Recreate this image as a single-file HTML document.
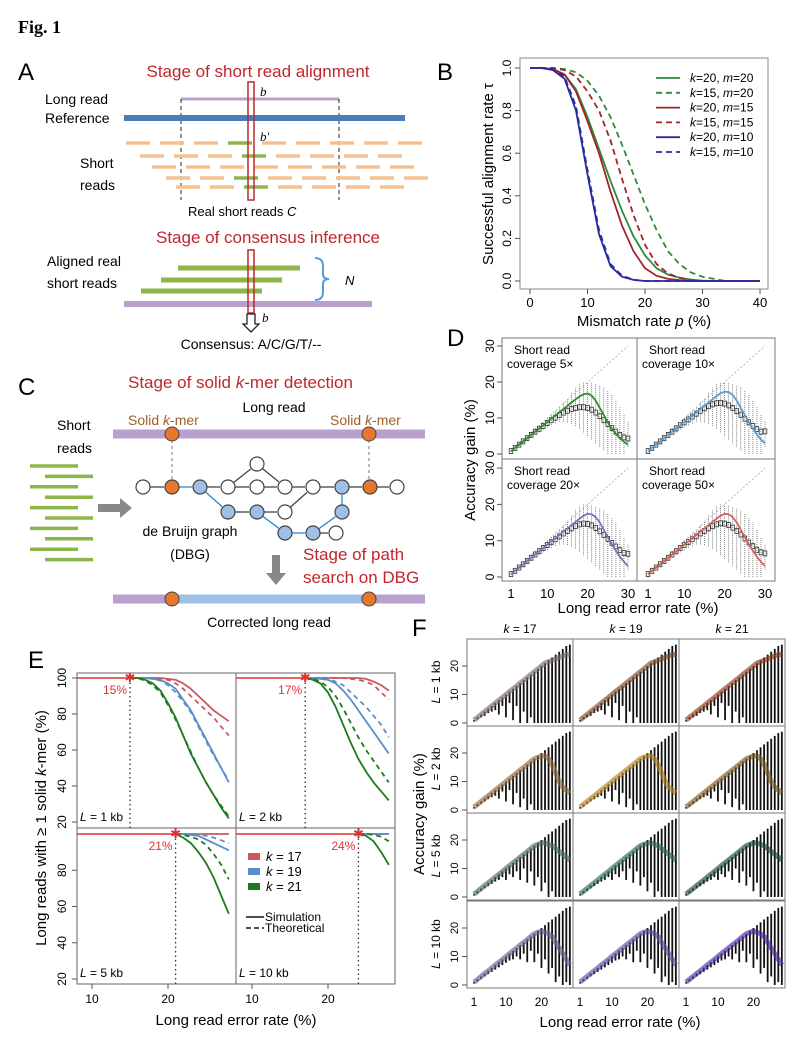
<!DOCTYPE html>
<html><head><meta charset="utf-8"><style>
html,body{margin:0;padding:0;background:#fff;}
svg{display:block;font-family:"Liberation Sans",sans-serif;}
</style></head><body>
<svg id="fig" xmlns="http://www.w3.org/2000/svg" width="798" height="1048" viewBox="0 0 798 1048">
<rect x="0" y="0" width="798" height="1048" fill="#fff"/>
<text x="18" y="33" font-family="Liberation Serif" font-weight="bold" font-size="18">Fig. 1</text>

<!-- Panel A -->
<g>
<text x="18" y="80" font-size="24">A</text>
<text x="258" y="77" font-size="17" fill="#c0272d" text-anchor="middle">Stage of short read alignment</text>
<line x1="181" y1="99" x2="339" y2="99" stroke="#b9a0cf" stroke-width="3"/>
<line x1="181" y1="99" x2="181" y2="200" stroke="#222" stroke-dasharray="4,3"/>
<line x1="339" y1="99" x2="339" y2="200" stroke="#222" stroke-dasharray="4,3"/>
<line x1="124" y1="118" x2="405" y2="118" stroke="#4a7ebb" stroke-width="6"/>
<text x="45" y="104" font-size="14">Long read</text>
<text x="45" y="123" font-size="14">Reference</text>
<g id="shortreads"></g>
<text x="80" y="168" font-size="14">Short</text>
<text x="80" y="190" font-size="14">reads</text>
<rect x="248" y="82" width="6" height="118" fill="none" stroke="#c0272d" stroke-width="1.5"/>
<text x="260" y="96" font-size="13" font-style="italic" font-family="Liberation Serif">b</text>
<text x="260" y="141" font-size="13" font-style="italic" font-family="Liberation Serif">b′</text>
<text x="188" y="216" font-size="13">Real short reads <tspan font-style="italic">C</tspan></text>
<text x="268" y="243" font-size="17" fill="#c0272d" text-anchor="middle">Stage of consensus inference</text>
<line x1="178" y1="268" x2="300" y2="268" stroke="#8db54a" stroke-width="5"/>
<line x1="161" y1="280" x2="282" y2="280" stroke="#8db54a" stroke-width="5"/>
<line x1="141" y1="291" x2="262" y2="291" stroke="#8db54a" stroke-width="5"/>
<line x1="124" y1="304" x2="372" y2="304" stroke="#b9a0cf" stroke-width="6"/>
<rect x="248" y="250" width="6" height="63" fill="none" stroke="#c0272d" stroke-width="1.5"/>
<path d="M315,258 q8,0 8,8 v8 q0,5 6,5 q-6,0 -6,5 v8 q0,8 -8,8" fill="none" stroke="#5b9bd5" stroke-width="2"/>
<text x="345" y="285" font-size="13" font-style="italic">N</text>
<text x="47" y="266" font-size="14">Aligned real</text>
<text x="47" y="288" font-size="14">short reads</text>
<path d="M247,314 v10 h-4 l8,8 l8,-8 h-4 v-10 z" fill="#fff" stroke="#222" stroke-width="1.3"/>
<text x="262" y="322" font-size="13" font-style="italic" font-family="Liberation Serif">b</text>
<text x="251" y="349" font-size="14" text-anchor="middle">Consensus: A/C/G/T/--</text>
</g>

<!-- Panel C -->
<g>
<text x="18" y="395" font-size="24">C</text>
<text x="128" y="388" font-size="17" fill="#c0272d">Stage of solid <tspan font-style="italic">k</tspan>-mer detection</text>
<text x="274" y="412" font-size="14" text-anchor="middle">Long read</text>
<text x="128" y="425" font-size="14" fill="#a0602a">Solid <tspan font-style="italic">k</tspan>-mer</text>
<text x="330" y="425" font-size="14" fill="#a0602a">Solid <tspan font-style="italic">k</tspan>-mer</text>
<line x1="113" y1="434" x2="425" y2="434" stroke="#b9a0cf" stroke-width="9"/>
<line x1="172" y1="434" x2="172" y2="487" stroke="#777" stroke-dasharray="3,3"/>
<line x1="369" y1="434" x2="369" y2="487" stroke="#777" stroke-dasharray="3,3"/>
<circle cx="172" cy="434" r="7" fill="#e8772e" stroke="#444"/>
<circle cx="369" cy="434" r="7" fill="#e8772e" stroke="#444"/>
<text x="57" y="430" font-size="14">Short</text>
<text x="57" y="453" font-size="14">reads</text>
<g id="greenreads"></g>
<path d="M98,504 h22 v-6 l12,10 l-12,10 v-6 h-22 z" fill="#888"/>
<g id="dbg"></g>
<text x="190" y="536" font-size="14" text-anchor="middle">de Bruijn graph</text>
<text x="190" y="559" font-size="14" text-anchor="middle">(DBG)</text>
<path d="M272,555 h8 v18 h6 l-10,12 l-10,-12 h6 z" fill="#888"/>
<text x="303" y="560" font-size="17" fill="#c0272d">Stage of path</text>
<text x="303" y="583" font-size="17" fill="#c0272d">search on DBG</text>
<line x1="113" y1="599" x2="425" y2="599" stroke="#b9a0cf" stroke-width="9"/>
<line x1="172" y1="599" x2="369" y2="599" stroke="#9ec0e6" stroke-width="9"/>
<circle cx="172" cy="599" r="7" fill="#e8772e" stroke="#444"/>
<circle cx="369" cy="599" r="7" fill="#e8772e" stroke="#444"/>
<text x="269" y="627" font-size="14" text-anchor="middle">Corrected long read</text>
</g>

<g id="panelB"></g>
<g id="panelD"></g>
<g id="panelE"></g>
<g id="panelF"></g>
</svg>
<script>
// ---------- Panel B data ----------
const pB = [0,2,4,6,8,10,12,14,16,18,20,22,24,26,28,30,32,34,36,38,40];
const bK20m20 = [1,1,0.995,0.97,0.9,0.77,0.62,0.47,0.33,0.21,0.12,0.06,0.03,0.015,0.006,0.002,0,0,0,0,0];
const bK15m20 = [1,1,1,0.995,0.98,0.94,0.87,0.77,0.64,0.5,0.36,0.24,0.14,0.08,0.04,0.02,0.01,0,0,0,0];
const bK20m15 = [1,1,0.995,0.97,0.89,0.75,0.6,0.42,0.26,0.14,0.06,0.025,0.01,0.004,0,0,0,0,0,0,0];
const bK15m15 = [1,1,1,0.99,0.96,0.89,0.8,0.66,0.48,0.31,0.17,0.08,0.035,0.015,0.005,0,0,0,0,0,0];
const bK20m10 = [1,1,0.99,0.95,0.8,0.5,0.22,0.07,0.02,0.005,0,0,0,0,0,0,0,0,0,0,0];
const bK15m10 = [1,1,0.995,0.96,0.82,0.52,0.24,0.08,0.025,0.006,0,0,0,0,0,0,0,0,0,0,0];
const bXTicks = [0,10,20,30,40];
const bYTicks = ["0.0","0.2","0.4","0.6","0.8","1.0"];
const bLegend = ["k=20, m=20","k=15, m=20","k=20, m=15","k=15, m=15","k=20, m=10","k=15, m=10"];

// ---------- Panel D data ----------
const dX = [1,2,3,4,5,6,7,8,9,10,11,12,13,14,15,16,17,18,19,20,21,22,23,24,25,26,27,28,29,30];
const dCurve5  = [0.8,1.7,2.6,3.5,4.4,5.3,6.2,7.1,8,8.9,9.8,10.7,11.6,12.5,13.4,14.3,15.2,16,16.6,16.8,16.2,14.8,12.8,10.8,8.8,7,5.6,4.4,3.4,2.6];
const dCurve10 = [0.8,1.7,2.6,3.5,4.4,5.3,6.2,7.1,8,8.9,9.8,10.7,11.6,12.5,13.4,14.3,15.2,16.1,16.9,17.3,17.2,16.4,14.8,12.8,10.8,8.8,7,5.4,4,3];
const dCurve20 = [0.8,1.7,2.6,3.5,4.4,5.3,6.2,7.1,8,8.9,9.8,10.7,11.6,12.5,13.4,14.3,15.2,16.1,16.9,17.4,17.3,16.5,15,13,11,9,7.2,5.6,4.2,3];
const dCurve50 = [0.8,1.7,2.6,3.5,4.4,5.3,6.2,7.1,8,8.9,9.8,10.7,11.6,12.5,13.4,14.3,15.2,16.1,16.9,17.4,17.3,16.5,15,13,11,9,7.2,5.6,4.2,3];
const dMed5  = [0.8,1.7,2.6,3.5,4.4,5.3,6.2,7,7.8,8.6,9.4,10.1,10.8,11.5,12,12.5,12.8,13,13,12.8,12.3,11.5,10.5,9.4,8.3,7.2,6.2,5.3,4.6,4.3];
const dMed10 = [0.8,1.7,2.6,3.5,4.4,5.3,6.2,7.1,8,8.8,9.6,10.4,11.2,12,12.7,13.3,13.8,14.1,14.2,14,13.5,12.8,11.9,10.9,9.8,8.8,7.8,6.9,6.2,6.3];
const dMed20 = [0.8,1.7,2.6,3.5,4.4,5.3,6.2,7.1,8,8.8,9.6,10.4,11.2,12,12.7,13.4,14,14.5,14.7,14.6,14.2,13.5,12.6,11.6,10.5,9.4,8.4,7.4,6.6,6.4];
const dMed50 = [0.8,1.7,2.6,3.5,4.4,5.3,6.2,7.1,8,8.8,9.6,10.4,11.2,12,12.7,13.4,14,14.5,14.8,14.7,14.3,13.6,12.7,11.7,10.6,9.5,8.5,7.5,6.8,6.5];
const dWhiskHi = [1,2,3,4,5,6,7,8,9,10,11,12,13,14.5,15.5,17,18.5,19.5,20,20,19.8,19.5,19,18.5,17.5,16.5,15,13,11,9];
const dWhiskLo = [0.5,1.3,2.2,3,3.8,4.6,5.4,6,6.8,7.4,8,8.5,9,9,8.8,8.4,7.8,7,6,5,4,3,2,1,0,0,0,0,0,2];
const dXTicks = [1,10,20,30];
const dYTicks = [0,10,20,30];
const dCoverage = ["5×","10×","20×","50×"];

// ---------- Panel E data ----------
const eX = [15,16,17,18,19,20,21,22,23,24,25,26,27,28];
const e1k17s = [100,100,100,100,100,99.5,99,97,94,90,86,82,79,76];
const e1k17t = [100,100,100,100,99.5,99,97,94,90,86,82,78,73,68];
const e1k19s = [100,100,100,99.5,99,97,94,88,82,74,66,58,50,42];
const e1k19t = [100,100,100,99.5,98.5,96,92,87,81,73,65,57,50,43];
const e1k21s = [100,100,99,97,93,86,78,68,58,50,42,35,28,22];
const e1k21t = [100,100,98.5,96,92,85,77,68,59,50,42,35,29,23];
const e2k17s = [100,100,100,100,100,100,100,100,100,100,99.5,98,96,93];
const e2k17t = [100,100,100,100,100,100,100,100,99.5,99,98,96,92,88];
const e2k19s = [100,100,100,100,99.5,99,97,93,88,82,76,70,64,58];
const e2k19t = [100,100,100,100,99.8,99.5,98,96,92,88,84,79,74,67];
const e2k21s = [100,100,100,99,97,92,84,74,64,55,48,42,37,32];
const e2k21t = [100,100,100,99.5,98,95,90,83,75,67,60,54,48,42];
const e5k17s = [100,100,100,100,100,100,100,100,100,100,100,100,100,100];
const e5k19s = [100,100,100,100,100,100,100,100,99.5,99,97,95,93,91];
const e5k19t = [100,100,100,100,100,100,100,100,100,99.8,99,98,96.5,95];
const e5k21s = [100,100,100,100,100,100,100,98,95,90,84,76,66,56];
const e5k21t = [100,100,100,100,100,100,100,99.5,98.5,97,94,89,83,75];
const e10k17s = [100,100,100,100,100,100,100,100,100,100,100,100,100,100];
const e10k19s = [100,100,100,100,100,100,100,100,100,100,100,100,100,100];
const e10k21s = [100,100,100,100,100,100,100,100,100,100,99,96,90,83];
const e10k21t = [100,100,100,100,100,100,100,100,100,100,100,99.5,98.5,96];
const eThresh = [15,17,21,24];
const eThreshLabels = ["15%","17%","21%","24%"];
const eLengths = ["1 kb","2 kb","5 kb","10 kb"];
const eXTicks = [10,20];
const eYTicksTop = [20,40,60,80,100];
const eYTicksBot = [20,40,60,80];

// ---------- Panel F data ----------
const fX = [1,2,3,4,5,6,7,8,9,10,11,12,13,14,15,16,17,18,19,20,21,22,23,24,25,26,27,28];
const fHi = [1,2,3,4,5,6,7,8,9,10,11,12,13,14,15,16,17,18,19,20,21,22,23,24,25,26,27,27.5];
const fLoRow1 = [0.5,1.3,2,2.5,3.5,4,4.5,3,6,2,7,1,6,0,4,0,2,0,0,0,0,0,0,0,0,0,0,0];
const fLoRow2 = [0.5,1.3,2.2,3,3.8,4.5,5,4,6.5,3,7,2,6,1,4,0,2,0,0,0,0,0,0,0,0,0,0,0];
const fLoRow3 = [0.5,1.3,2.2,3,3.8,4.6,5.4,6,7,6,8,7,9,6,10,5,9,4,7,2,5,0,2,0,0,0,0,0];
const fLoRow4 = [0.5,1.3,2.2,3,3.8,4.6,5.4,6.2,7,7.8,8.6,9,10,9,11,8,12,8,11,6,9,4,6,1,3,0,1,0];
const fMedRow1 = [1,2,3,4,5,6,7,8,9,10,11,12,13,14,15,16,17,18,19,20,21,21.5,22,22.5,23,23.5,24,24];
const fMedRow2 = [1,2,3,4,5,6,7,8,9,10,11,12,13,14,15,16,17,18,18.5,19,19,18,16,13,10,8,7,6];
const fMedRow3 = [1,2,3,4,5,6,7,8,9,10,11,12,13,14,15,16,17,18,18.5,19,19,18.5,18,17,16,15,14,13];
const fMedRow4 = [1,2,3,4,5,6,7,8,9,10,11,12,13,14,15,16,17,18,18.5,19,18.5,18,17,15,13,11,9,7];
const fK = ["17","19","21"];
const fL = ["1 kb","2 kb","5 kb","10 kb"];
const fXTicks = [1,10,20];
const fYTicks = [0,10,20];

const NS = "http://www.w3.org/2000/svg";
function el(tag, attrs, parent){ const e=document.createElementNS(NS,tag); for(const k in attrs) e.setAttribute(k,attrs[k]); parent.appendChild(e); return e; }
function pts(xs, ys, fx, fy){ return xs.map((x,i)=>fx(x).toFixed(1)+","+fy(ys[i]).toFixed(1)).join(" "); }

// ---------- Panel A short-read dashes ----------
(function(){
  const g=document.getElementById('shortreads');
  const rows=[[143,126],[156,140],[167,152],[178,166],[187,176]];
  rows.forEach((r,ri)=>{
    for(let x=r[1]; x<405; x+=34){
      const green = (x<=250 && x+24>=248);
      const l=el('line',{x1:x,y1:r[0],x2:x+24,y2:r[0],stroke:green?'#8db54a':'#f6c08f','stroke-width':3.5},g);
      
      
    }
  });
  const gr=document.getElementById('greenreads');
  for(let i=0;i<10;i++){
    const x0 = i%2===0?30:45;
    const l=el('line',{x1:x0,y1:466+i*10.4,x2:x0+48,y2:466+i*10.4,stroke:'#8db54a','stroke-width':3.5},gr);
    
    
  }
  const dbg=document.getElementById('dbg');
  const nodes={a:[143,487,'w'],b:[172,487,'o'],c:[200,487,'b'],d:[228,487,'w'],e:[257,487,'w'],f:[285,487,'w'],g:[313,487,'w'],h:[342,487,'b'],i:[370,487,'o'],j:[397,487,'w'],t:[257,464,'w'],m:[228,512,'b'],n:[257,512,'b'],o:[285,512,'w'],p:[342,512,'b'],q:[285,533,'b'],r:[313,533,'b'],s:[336,533,'w']};
  const edges=[['a','b','k'],['b','c','u'],['c','d','k'],['d','e','k'],['e','f','k'],['f','g','k'],['g','h','k'],['h','i','k'],['i','j','k'],['d','t','k'],['t','f','k'],['c','m','u'],['m','n','k'],['n','o','k'],['o','g','k'],['n','q','u'],['q','r','u'],['r','s','k'],['r','p','u'],['p','h','u']];
  edges.forEach(e=>{
    const A=nodes[e[0]],B=nodes[e[1]];
    const dx=B[0]-A[0],dy=B[1]-A[1],L=Math.hypot(dx,dy);
    const l=el('line',{x1:A[0]+dx/L*7,y1:A[1]+dy/L*7,x2:B[0]-dx/L*8,y2:B[1]-dy/L*8,stroke:e[2]==='u'?'#2a8ad0':'#444','stroke-width':1.3},dbg);
    
    
  });
  Object.values(nodes).forEach(n=>{
    const c=el('circle',{cx:n[0],cy:n[1],r:7,fill:n[2]==='o'?'#e8772e':(n[2]==='b'?'#9ec0e6':'#fff'),stroke:'#444','stroke-width':1.2},dbg);
    
    
  });
})();

// ---------- Panel B ----------
(function(){
  const g=document.getElementById('panelB');
  const xB=p=>530+p*(230/40), yB=v=>281-v*213;
  let t=el('text',{x:437,y:80,'font-size':24},g); t.textContent='B';
  
  
  const box=el('rect',{x:520,y:58,width:248,height:231,fill:'none',stroke:'#888'},g);
  
  
  bXTicks.forEach(v=>{
    const l=el('line',{x1:xB(v),y1:289,x2:xB(v),y2:294,stroke:'#555'},g);
    
    
    const tx=el('text',{x:xB(v),y:307,'font-size':13,'text-anchor':'middle'},g); tx.textContent=v;
    
    
  });
  bYTicks.forEach(s=>{
    const v=parseFloat(s);
    const l=el('line',{x1:515,y1:yB(v),x2:520,y2:yB(v),stroke:'#555'},g);
    
    
    const tx=el('text',{x:511,y:yB(v),'font-size':12,'text-anchor':'middle',transform:`rotate(-90 511 ${yB(v)})`},g); tx.textContent=s;
    
    
  });
  let xt=el('text',{x:644,y:326,'font-size':15,'text-anchor':'middle'},g); xt.innerHTML='Mismatch rate <tspan font-style="italic">p</tspan> (%)';
  
  
  let yt=el('text',{x:493,y:174,'font-size':15,'text-anchor':'middle',transform:'rotate(-90 493 174)'},g); yt.textContent='Successful alignment rate τ';
  
  
  const series=[[bK20m20,'#2f8a3a',''],[bK15m20,'#2f8a3a','6,4'],[bK20m15,'#a3242a',''],[bK15m15,'#a3242a','6,4'],[bK20m10,'#2a2aa0',''],[bK15m10,'#2a2aa0','6,4']];
  series.forEach((s,i)=>{
    const pl=el('polyline',{points:pts(pB,s[0],xB,yB),fill:'none',stroke:s[1],'stroke-width':1.8,'stroke-dasharray':s[2]},g);
    
    
    const ly=78+i*14.8;
    const ll=el('line',{x1:656,y1:ly,x2:680,y2:ly,stroke:s[1],'stroke-width':1.8,'stroke-dasharray':s[2]},g);
    
    
    const lt=el('text',{x:690,y:ly+4,'font-size':12},g);
    lt.innerHTML=bLegend[i].replace(/k/,'<tspan font-style="italic">k</tspan>').replace(/m/,'<tspan font-style="italic">m</tspan>');
    
    
  });
})();

// ---------- Panel D ----------
(function(){
  const g=document.getElementById('panelD');
  const xD=(c,v)=>(c===0?511:648)+(v-1)*(117/29);
  const yD=(r,v)=>(r===0?454:577)-v*(r===0?3.6:3.63);
  let t=el('text',{x:447,y:346,'font-size':24},g); t.textContent='D';
  
  
  const box=el('rect',{x:502,y:338,width:273,height:243,fill:'none',stroke:'#777'},g);
  
  
  let l=el('line',{x1:637,y1:338,x2:637,y2:581,stroke:'#777'},g);
  
  
  l=el('line',{x1:502,y1:459,x2:775,y2:459,stroke:'#777'},g);
  
  
  const curves=[dCurve5,dCurve10,dCurve20,dCurve50], meds=[dMed5,dMed10,dMed20,dMed50];
  const cols=['#2e8b2e','#5a9bd0','#8070b8','#d9605a'];
  for(let k=0;k<4;k++){
    const c=k%2, r=Math.floor(k/2);
    const fx=v=>xD(c,v), fy=v=>yD(r,v);
    const diag=el('line',{x1:fx(1),y1:fy(1),x2:fx(30),y2:fy(30),stroke:'#bbb','stroke-dasharray':'2,2'},g);
    
    
    dX.forEach((x,i)=>{
      const w=el('line',{x1:fx(x),y1:fy(dWhiskLo[i]),x2:fx(x),y2:fy(dWhiskHi[i]),stroke:'#555','stroke-width':0.7,'stroke-dasharray':'1,1'},g);
      
      
      const b=el('rect',{x:fx(x)-1.8,y:fy(meds[k][i])-2.5,width:3.6,height:5,fill:'none',stroke:'#333','stroke-width':0.8},g);
      
      
    });
    const pl=el('polyline',{points:pts(dX,curves[k],fx,fy),fill:'none',stroke:cols[k],'stroke-width':1.8},g);
    
    
    const lab=el('text',{x:(c===0?502:637)+10,y:(r===0?338:459)+16,'font-size':12},g);
    lab.innerHTML='<tspan x="'+((c===0?502:637)+12)+'">Short read</tspan><tspan x="'+((c===0?502:637)+5)+'" dy="14">coverage '+dCoverage[k]+'</tspan>';
    
    
  }
  [0,1].forEach(r=>dYTicks.forEach(v=>{
    const tk=el('line',{x1:497,y1:yD(r,v),x2:502,y2:yD(r,v),stroke:'#555'},g);
    
    
    const tx=el('text',{x:494,y:yD(r,v),'font-size':12,'text-anchor':'middle',transform:`rotate(-90 494 ${yD(r,v)})`},g); tx.textContent=v;
    
    
  }));
  [0,1].forEach(c=>dXTicks.forEach(v=>{
    const tx=el('text',{x:xD(c,v),y:598,'font-size':13,'text-anchor':'middle'},g); tx.textContent=v;
    
    
  }));
  let xt=el('text',{x:638,y:613,'font-size':15,'text-anchor':'middle'},g); xt.textContent='Long read error rate (%)';
  
  
  let yt=el('text',{x:475,y:460,'font-size':15,'text-anchor':'middle',transform:'rotate(-90 475 460)'},g); yt.textContent='Accuracy gain (%)';
  
  
})();

// ---------- Panel E ----------
(function(){
  const g=document.getElementById('panelE');
  const xE=(c,v)=>(c===0?92:252)+(v-10)*7.6;
  const yE=(r,v)=>(r===0?678:834)+(100-v)*(r===0?1.8:1.8125);
  let t=el('text',{x:28,y:668,'font-size':24},g); t.textContent='E';
  
  
  const box=el('rect',{x:77,y:673,width:318,height:311,fill:'none',stroke:'#666'},g);
  
  
  let l=el('line',{x1:236,y1:673,x2:236,y2:984,stroke:'#666'},g);
  
  
  l=el('line',{x1:77,y1:828,x2:395,y2:828,stroke:'#666'},g);
  
  
  const R='#c85a5a',B='#5b8ec9',G='#1e7a1e';
  const panels=[
    [[e1k17s,R,''],[e1k17t,R,'5,4'],[e1k19s,B,''],[e1k19t,B,'5,4'],[e1k21s,G,''],[e1k21t,G,'5,4']],
    [[e2k17s,R,''],[e2k17t,R,'5,4'],[e2k19s,B,''],[e2k19t,B,'5,4'],[e2k21s,G,''],[e2k21t,G,'5,4']],
    [[e5k17s,R,''],[e5k19s,B,''],[e5k19t,B,'5,4'],[e5k21s,G,''],[e5k21t,G,'5,4']],
    [[e10k17s,R,''],[e10k19s,B,''],[e10k21s,G,''],[e10k21t,G,'5,4']]
  ];
  for(let k=0;k<4;k++){
    const c=k%2, r=Math.floor(k/2);
    const fx=v=>xE(c,v), fy=v=>yE(r,v);
    const x0=c===0?77:236, yb=r===0?828:984;
    const th=eThresh[k];
    const hl=el('line',{x1:x0,y1:fy(100),x2:fx(th),y2:fy(100),stroke:'#d33','stroke-width':1.4},g);
    
    
    const vl=el('line',{x1:fx(th),y1:fy(100),x2:fx(th),y2:yb,stroke:'#333','stroke-dasharray':'1.5,3','stroke-width':1.3},g);
    
    
    const xs=eX.filter(x=>x>=th);
    panels[k].forEach((s,si)=>{
      const ys=s[0].slice(eX.length-xs.length);
      const pl=el('polyline',{points:pts(xs,ys,fx,fy),fill:'none',stroke:s[1],'stroke-width':1.8,'stroke-dasharray':s[2]},g);
      
      
    });
    const st=el('text',{x:fx(th),y:fy(100)+4,'font-size':13,fill:'#e03030','text-anchor':'middle'},g); st.textContent='✱';
    
    
    const tl=el('text',{x:fx(th)-3,y:fy(100)+16,'font-size':12,fill:'#e03030','text-anchor':'end'},g); tl.textContent=eThreshLabels[k];
    
    
    const ll=el('text',{x:x0+3,y:yb-7,'font-size':12},g); ll.innerHTML='<tspan font-style="italic">L</tspan> = '+eLengths[k];
    
    
    eXTicks.forEach(v=>{
      if(r===1){
        const tk=el('line',{x1:fx(v),y1:984,x2:fx(v),y2:989,stroke:'#555'},g);
        
        
        const tx=el('text',{x:fx(v),y:1003,'font-size':12,'text-anchor':'middle'},g); tx.textContent=v;
        
        
      }
    });
  }
  [[0,eYTicksTop],[1,eYTicksBot]].forEach(a=>a[1].forEach(v=>{
    const y=yE(a[0],v);
    const tk=el('line',{x1:72,y1:y,x2:77,y2:y,stroke:'#555'},g);
    
    
    const tx=el('text',{x:66,y:y,'font-size':12,'text-anchor':'middle',transform:`rotate(-90 66 ${y})`},g); tx.textContent=v;
    
    
  }));
  let xt=el('text',{x:236,y:1025,'font-size':15,'text-anchor':'middle'},g); xt.textContent='Long read error rate (%)';
  
  
  let yt=el('text',{x:46,y:828,'font-size':15,'text-anchor':'middle',transform:'rotate(-90 46 828)'},g); yt.innerHTML='Long reads with ≥ 1 solid <tspan font-style="italic">k</tspan>-mer (%)';
  
  
  const leg=[['17',R],['19',B],['21',G]];
  leg.forEach((d,i)=>{
    const rc=el('rect',{x:248,y:853+i*15,width:12,height:7,fill:d[1]},g);
    
    
    const tx=el('text',{x:266,y:861+i*15,'font-size':13},g); tx.innerHTML='<tspan font-style="italic">k</tspan> = '+d[0];
    
    
  });
  let s1=el('line',{x1:246,y1:917,x2:264,y2:917,stroke:'#111','stroke-width':1.5},g);
  
  
  let s2=el('line',{x1:246,y1:928,x2:264,y2:928,stroke:'#111','stroke-width':1.5,'stroke-dasharray':'5,3'},g);
  
  
  let st1=el('text',{x:265,y:921,'font-size':12},g); st1.textContent='Simulation';
  
  
  let st2=el('text',{x:265,y:932,'font-size':12},g); st2.textContent='Theoretical';
  
  
})();

// ---------- Panel F ----------
(function(){
  const g=document.getElementById('panelF');
  const x0=[467,573,679], y0=[639,726,813,901];
  const xF=(c,v)=>x0[c]+7+(v-1)*3.55, yF=(r,v)=>y0[r]+84-v*2.85;
  let t=el('text',{x:412,y:636,'font-size':24},g); t.textContent='F';
  
  
  const los=[fLoRow1,fLoRow2,fLoRow3,fLoRow4], meds=[fMedRow1,fMedRow2,fMedRow3,fMedRow4];
  const cols=[["#7a6a6a","#7a4a2a","#8a3a1a"],["#8a6a3a","#b08020","#7a5a20"],["#4a6a5a","#2a6a4a","#1a4a30"],["#6a5a8a","#5a4aa0","#4a2aa0"]];
  for(let r=0;r<4;r++) for(let c=0;c<3;c++){
    const fx=v=>xF(c,v), fy=v=>yF(r,v);
    fX.forEach((x,i)=>{
      const b=el('line',{x1:fx(x),y1:fy(los[r][i]),x2:fx(x),y2:fy(fHi[i]),stroke:'#111','stroke-width':1.8},g);
      
      
    });
    const m=el('polyline',{points:pts(fX,meds[r],fx,fy),fill:'none',stroke:cols[r][c],'stroke-width':5,'stroke-opacity':0.65,'stroke-linejoin':'round'},g);
    
    
  }
  for(let r=0;r<4;r++) for(let c=0;c<3;c++){
    const fr=el('rect',{x:x0[c],y:y0[r],width:106,height:87,fill:'none',stroke:'#777'},g);
    
    
  }
  fK.forEach((k,c)=>{
    const tx=el('text',{x:x0[c]+53,y:633,'font-size':12,'text-anchor':'middle'},g); tx.innerHTML='<tspan font-style="italic">k</tspan> = '+k;
    
    
  });
  fL.forEach((L,r)=>{
    const cy=y0[r]+43;
    const tx=el('text',{x:440,y:cy,'font-size':12,'text-anchor':'middle',transform:`rotate(-90 440 ${cy})`},g); tx.innerHTML='<tspan font-style="italic">L</tspan> = '+L;
    
    
    fYTicks.forEach(v=>{
      const y=yF(r,v);
      const tk=el('line',{x1:462,y1:y,x2:467,y2:y,stroke:'#555'},g);
      
      
      const tl=el('text',{x:458,y:y,'font-size':11,'text-anchor':'middle',transform:`rotate(-90 458 ${y})`},g); tl.textContent=v;
      
      
    });
  });
  [0,1,2].forEach(c=>fXTicks.forEach(v=>{
    const tx=el('text',{x:xF(c,v),y:1006,'font-size':12,'text-anchor':'middle'},g); tx.textContent=v;
    
    
  }));
  let xt=el('text',{x:620,y:1027,'font-size':15,'text-anchor':'middle'},g); xt.textContent='Long read error rate (%)';
  
  
  let yt=el('text',{x:424,y:814,'font-size':15,'text-anchor':'middle',transform:'rotate(-90 424 814)'},g); yt.textContent='Accuracy gain (%)';
  
  
})();
</script>
</body></html>
